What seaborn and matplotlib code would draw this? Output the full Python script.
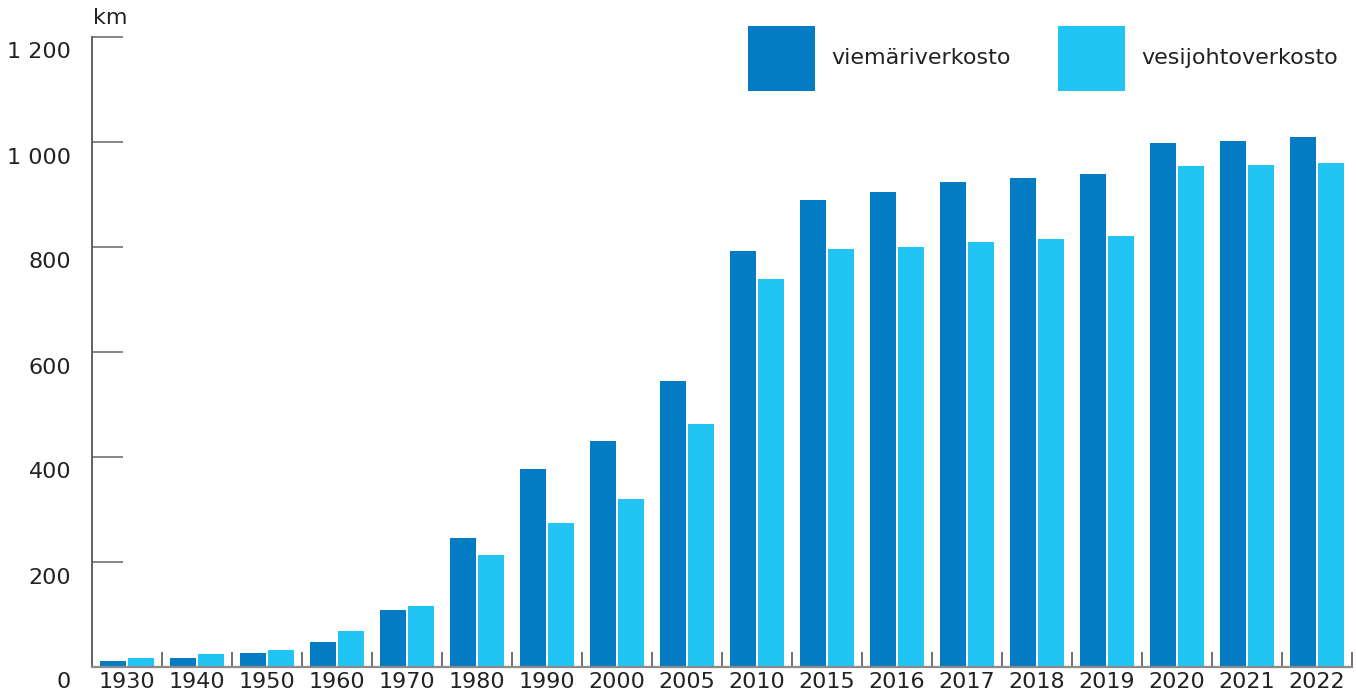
import matplotlib
matplotlib.use("Agg")
import matplotlib.pyplot as plt
from matplotlib.transforms import ScaledTranslation
from matplotlib.ticker import FixedLocator, FixedFormatter, NullFormatter
import seaborn as sns
import pandas as pd

years = ["1930", "1940", "1950", "1960", "1970", "1980", "1990", "2000", "2005",
         "2010", "2015", "2016", "2017", "2018", "2019", "2020", "2021", "2022"]
viemari = [10, 16, 26, 47, 108, 245, 376, 430, 544,
           791, 888, 904, 923, 930, 938, 997, 1001, 1009]
vesijohto = [17, 24, 31, 68, 115, 212, 273, 319, 461,
             738, 795, 799, 809, 814, 820, 954, 955, 959]
series_names = ["viemäriverkosto", "vesijohtoverkosto"]
colors = ["#047CC4", "#22C4F3"]
ytick_values = [0, 200, 400, 600, 800, 1000, 1200]
ytick_labels = ["0", "200", "400", "600", "800", "1 000", "1 200"]

df = pd.DataFrame({
    "year": years * 2,
    "km": viemari + vesijohto,
    "series": [series_names[0]] * len(years) + [series_names[1]] * len(years),
})

sns.set_theme(style="white")
plt.rcParams["font.family"] = ["DejaVu Sans"]
TXT = "#222222"

W, H = 1356, 693
fig = plt.figure(figsize=(W / 100, H / 100), dpi=100)
ax = fig.add_axes([92 / W, (H - 666.5) / H, (1352 - 92) / W, (666.5 - 36.5) / H])

sns.barplot(data=df, x="year", y="km", hue="series", order=years,
            hue_order=series_names, palette=colors, width=0.8, gap=0.07,
            saturation=1, linewidth=0, edgecolor="none", ax=ax, legend=True)

ax.set_xlim(-0.5, len(years) - 0.5)
ax.set_ylim(0, 1200)
ax.set_xlabel("")
ax.set_ylabel("")

for s in ["top", "right"]:
    ax.spines[s].set_visible(False)
ax.spines["left"].set_color("#555555")
ax.spines["left"].set_linewidth(1.3)
ax.spines["bottom"].set_color("#8a8a8a")
ax.spines["bottom"].set_linewidth(1.6)

# y ticks
ax.yaxis.set_major_locator(FixedLocator(ytick_values))
ax.yaxis.set_major_formatter(FixedFormatter(ytick_labels))
ax.tick_params(axis="y", direction="in", length=22.5, width=1.1, color="#666666",
               pad=15, labelsize=16, labelcolor=TXT, left=True)
offset = ScaledTranslation(0, -14 / 100, fig.dpi_scale_trans)
for lbl in ax.get_yticklabels():
    lbl.set_transform(lbl.get_transform() + offset)

# x ticks: labels at centers, separators at boundaries
ax.set_xticks(range(len(years)))
ax.set_xticklabels(years)
ax.tick_params(axis="x", which="major", length=0, pad=4, labelsize=16,
               labelcolor=TXT, bottom=True)
ax.set_xticks([i + 0.5 for i in range(len(years))], minor=True)
ax.xaxis.set_minor_formatter(NullFormatter())
ax.tick_params(axis="x", which="minor", direction="in", length=11, width=1.3,
               color="#666666", bottom=True)

ax.text(0.001, 1.0, "km", transform=ax.transAxes + ScaledTranslation(0, 8 / 100, fig.dpi_scale_trans),
        ha="left", va="bottom", fontsize=16, color=TXT)

handles, labels = ax.get_legend_handles_labels()
for h in handles:
    h.set_linewidth(0)
ax.legend(handles, labels, loc="upper right",
          bbox_to_anchor=(1338 / W, 1 - 26 / H), bbox_transform=fig.transFigure,
          ncol=2, frameon=False, fontsize=16, borderpad=0, borderaxespad=0,
          handlelength=3.0, handleheight=4.1, handletextpad=0.75,
          columnspacing=2.1, labelcolor=TXT)

fig.savefig("out.png", dpi=100)
